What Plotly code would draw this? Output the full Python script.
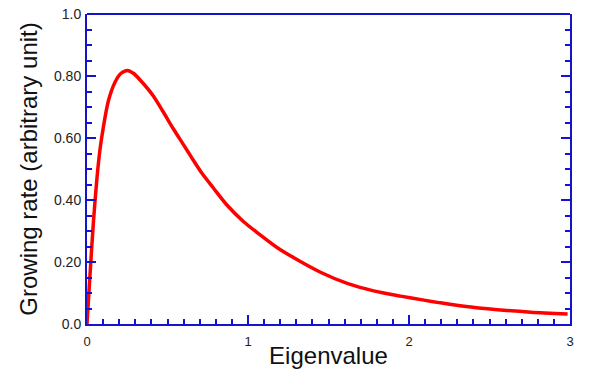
import plotly.graph_objects as go

eigenvalue = [0.0, 0.02, 0.04, 0.06, 0.08, 0.10, 0.133, 0.174, 0.21, 0.25, 0.29, 0.33, 0.413,
              0.475, 0.537, 0.60, 0.651, 0.713, 0.786, 0.869, 0.973, 1.077, 1.18, 1.29,
              1.45, 1.616, 1.78, 1.948, 2.093, 2.186, 2.342, 2.55, 2.757, 2.985]
growing_rate = [0.0, 0.17, 0.33, 0.46, 0.56, 0.63, 0.72, 0.78, 0.808, 0.818, 0.808, 0.787, 0.735,
                0.683, 0.629, 0.578, 0.536, 0.487, 0.438, 0.384, 0.33, 0.287, 0.247, 0.212,
                0.167, 0.131, 0.107, 0.090, 0.077, 0.069, 0.057, 0.046, 0.038, 0.032]

x_tickvals = [0, 1, 2, 3]
x_ticktext = ["0", "1", "2", "3"]
y_tickvals = [0, 0.2, 0.4, 0.6, 0.8, 1.0]
y_ticktext = ["0.0", "0.20", "0.40", "0.60", "0.80", "1.0"]

axis_color = "#1414CC"

fig = go.Figure()
fig.add_trace(go.Scatter(
    x=eigenvalue, y=growing_rate, mode="lines",
    line=dict(color="#FF0000", width=3.5, shape="spline", smoothing=0.8),
    showlegend=False,
))

fig.update_layout(
    width=591, height=370,
    margin=dict(l=87, r=21, t=14, b=46),
    plot_bgcolor="white", paper_bgcolor="white",
    font=dict(family="Liberation Sans, Arial, sans-serif", color="#222222"),
    shapes=[dict(type="line", xref="paper", yref="paper", x0=0, x1=1, y0=1, y1=1,
                 line=dict(color=axis_color, width=2))],
)
fig.update_xaxes(
    range=[0, 3], tickvals=x_tickvals, ticktext=x_ticktext,
    showgrid=False, zeroline=False, automargin=False,
    showline=True, linecolor=axis_color, linewidth=2, mirror=False,
    ticks="inside", ticklen=9, tickwidth=1.5, tickcolor=axis_color,
    minor=dict(ticks="inside", dtick=0.1, ticklen=5, tickwidth=1.5, tickcolor=axis_color, showgrid=False),
    tickfont=dict(size=13, color="#222222"),
    ticklabelstandoff=4,
    title=dict(text="Eigenvalue", font=dict(size=24, color="#111111"), standoff=0),
)
fig.update_yaxes(
    range=[0, 1.0], tickvals=y_tickvals, ticktext=y_ticktext,
    showgrid=False, zeroline=False, automargin=False,
    showline=True, linecolor=axis_color, linewidth=2, mirror="ticks",
    ticks="inside", ticklen=9, tickwidth=1.5, tickcolor=axis_color,
    minor=dict(ticks="inside", dtick=0.05, ticklen=5, tickwidth=1.5, tickcolor=axis_color, showgrid=False),
    tickfont=dict(size=14, color="#222222"),
    ticklabelstandoff=1,
    title=dict(text="Growing rate (arbitrary unit)", font=dict(size=24, color="#111111"), standoff=10),
)

fig.write_html("out.html", config={"displayModeBar": False},
               post_script="document.body.style.margin='0';")
